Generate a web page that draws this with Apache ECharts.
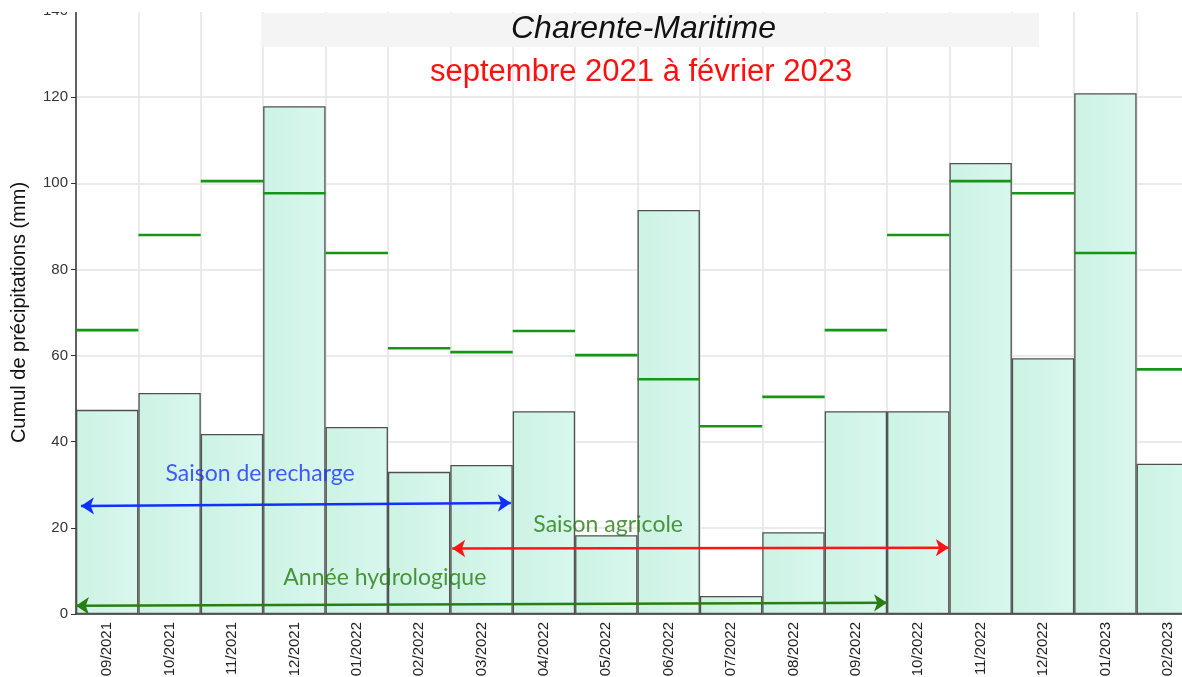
<!DOCTYPE html>
<html>
<head>
<meta charset="utf-8">
<script src="https://cdn.jsdelivr.net/npm/echarts@6/dist/echarts.min.js"></script>
<style>
html,body{margin:0;padding:0;background:#fff;overflow:hidden;}
#c{width:1182px;height:677px;}
</style>
</head>
<body>
<div id="c"></div>
<script>
const categories = ['09/2021','10/2021','11/2021','12/2021','01/2022','02/2022','03/2022','04/2022','05/2022','06/2022','07/2022','08/2022','09/2022','10/2022','11/2022','12/2022','01/2023','02/2023'];
const precip = [47.4, 51.3, 41.8, 117.9, 43.4, 33.0, 34.6, 47.1, 18.3, 93.8, 4.2, 19.0, 47.1, 47.1, 104.7, 59.4, 120.9, 34.9];
const normals = [65.9, 88.0, 100.5, 97.7, 83.8, 61.7, 60.8, 65.7, 60.1, 54.5, 43.6, 50.4, 65.9, 88.0, 100.5, 97.7, 83.8, 56.8];
const yTicks = [0, 20, 40, 60, 80, 100, 120, 140];
const titleText = 'Charente-Maritime';
const subtitleText = 'septembre 2021 à février 2023';
const yName = 'Cumul de précipitations (mm)';
// annotations: [xStart, yStart, xEnd, yEnd] in month-index units
const arrowRecharge = [0.08, 25.1, 6.97, 25.8];
const arrowAgricole = [6.03, 15.2, 13.99, 15.4];
const arrowHydro = [0.0, 1.9, 13.0, 2.6];
const labels = [
  {name: 'Saison de recharge', x: 2.95, y: 32.5, color: '#1a35f5'},
  {name: 'Saison agricole', x: 8.53, y: 20.7, color: '#267c12'},
  {name: 'Année hydrologique', x: 4.95, y: 8.4, color: '#267c12'}
];

const chart = echarts.init(document.getElementById('c'), null, {renderer: 'canvas'});

function arrowSeries(a, color) {
  return {
    type: 'lines', coordinateSystem: 'cartesian2d', xAxisIndex: 1, yAxisIndex: 0,
    symbol: ['arrow', 'arrow'], symbolSize: 13, z: 20,
    lineStyle: {color: color, width: 2.5, opacity: 1, curveness: 0},
    data: [{coords: [[a[0], a[1]], [a[2], a[3]]]}],
    silent: true
  };
}

const option = {
  animation: false,
  backgroundColor: '#fff',
  grid: {left: 76, top: 11, width: 1123, bottom: 63, containLabel: false, outerBoundsMode: 'none'},
  xAxis: [{
    type: 'category', data: categories,
    boundaryGap: true,
    axisLine: {show: true, lineStyle: {color: '#333', width: 1.5}},
    axisTick: {show: false},
    axisLabel: {rotate: 90, fontSize: 15, color: '#222', fontFamily: 'Liberation Sans', margin: 8, interval: 0},
    splitLine: {show: true, interval: 0, lineStyle: {color: '#e4e4e4', width: 1.5}}
  }, {
    type: 'value', min: 0, max: 18, show: false
  }],
  yAxis: [{
    type: 'value', min: 0, max: 140, interval: 20,
    name: yName, nameLocation: 'middle', nameGap: 47,
    nameTextStyle: {fontSize: 20, color: '#111', fontFamily: 'Liberation Sans'},
    axisLine: {show: true, lineStyle: {color: '#333', width: 1.5}},
    axisTick: {show: true, length: 5, lineStyle: {color: '#333'}},
    axisLabel: {fontSize: 15, color: '#333', fontFamily: 'Liberation Sans', margin: 8,
      formatter: v => yTicks.indexOf(v) >= 0 ? String(v) : ''},
    splitLine: {show: true, lineStyle: {color: '#e4e4e4', width: 1.5}}
  }],
  graphic: [
    {type: 'rect', left: 0, top: 0, z: 100, shape: {width: 1182, height: 12}, style: {fill: '#fff'}},
    {type: 'rect', left: 261, top: 13, z: 50, shape: {width: 778, height: 34}, style: {fill: '#f4f4f4'}},
    {type: 'text', left: 511, top: 13, z: 51, style: {text: titleText, fill: '#111', font: 'italic 32px "Liberation Sans"'}},
    {type: 'text', left: 430, top: 57, z: 51, style: {text: subtitleText, fill: '#ff1010', font: '31px "Liberation Sans"'}}
  ],
  series: [
    {
      type: 'bar', data: precip, barWidth: '100%', barCategoryGap: 0, z: 2,
      itemStyle: {
        color: new echarts.graphic.LinearGradient(0, 0, 1, 0, [
          {offset: 0, color: '#ccf3e4'}, {offset: 1, color: '#d9f7ee'}
        ]),
        borderColor: '#505050', borderWidth: 1.3
      }
    },
    {
      type: 'custom', data: normals.map((v, i) => [i, v]), z: 10,
      renderItem: function (params, api) {
        const c = api.coord([api.value(0), api.value(1)]);
        const w = api.size([1, 0])[0];
        return {type: 'line', shape: {x1: c[0] - w / 2, y1: c[1], x2: c[0] + w / 2, y2: c[1]},
          style: {stroke: '#169516', lineWidth: 2.6}};
      }
    },
    arrowSeries(arrowRecharge, '#1030ff'),
    arrowSeries(arrowAgricole, '#ff1515'),
    arrowSeries(arrowHydro, '#2a7f12'),
    {
      type: 'scatter', xAxisIndex: 1, yAxisIndex: 0, symbolSize: 0, z: 25, silent: true,
      data: labels.map(l => ({name: l.name, value: [l.x, l.y],
        label: {show: true, position: 'inside', formatter: '{b}', color: l.color, fontSize: 23, fontFamily: 'Lato'}}))
    }
  ]
};
chart.setOption(option);
</script>
</body>
</html>
